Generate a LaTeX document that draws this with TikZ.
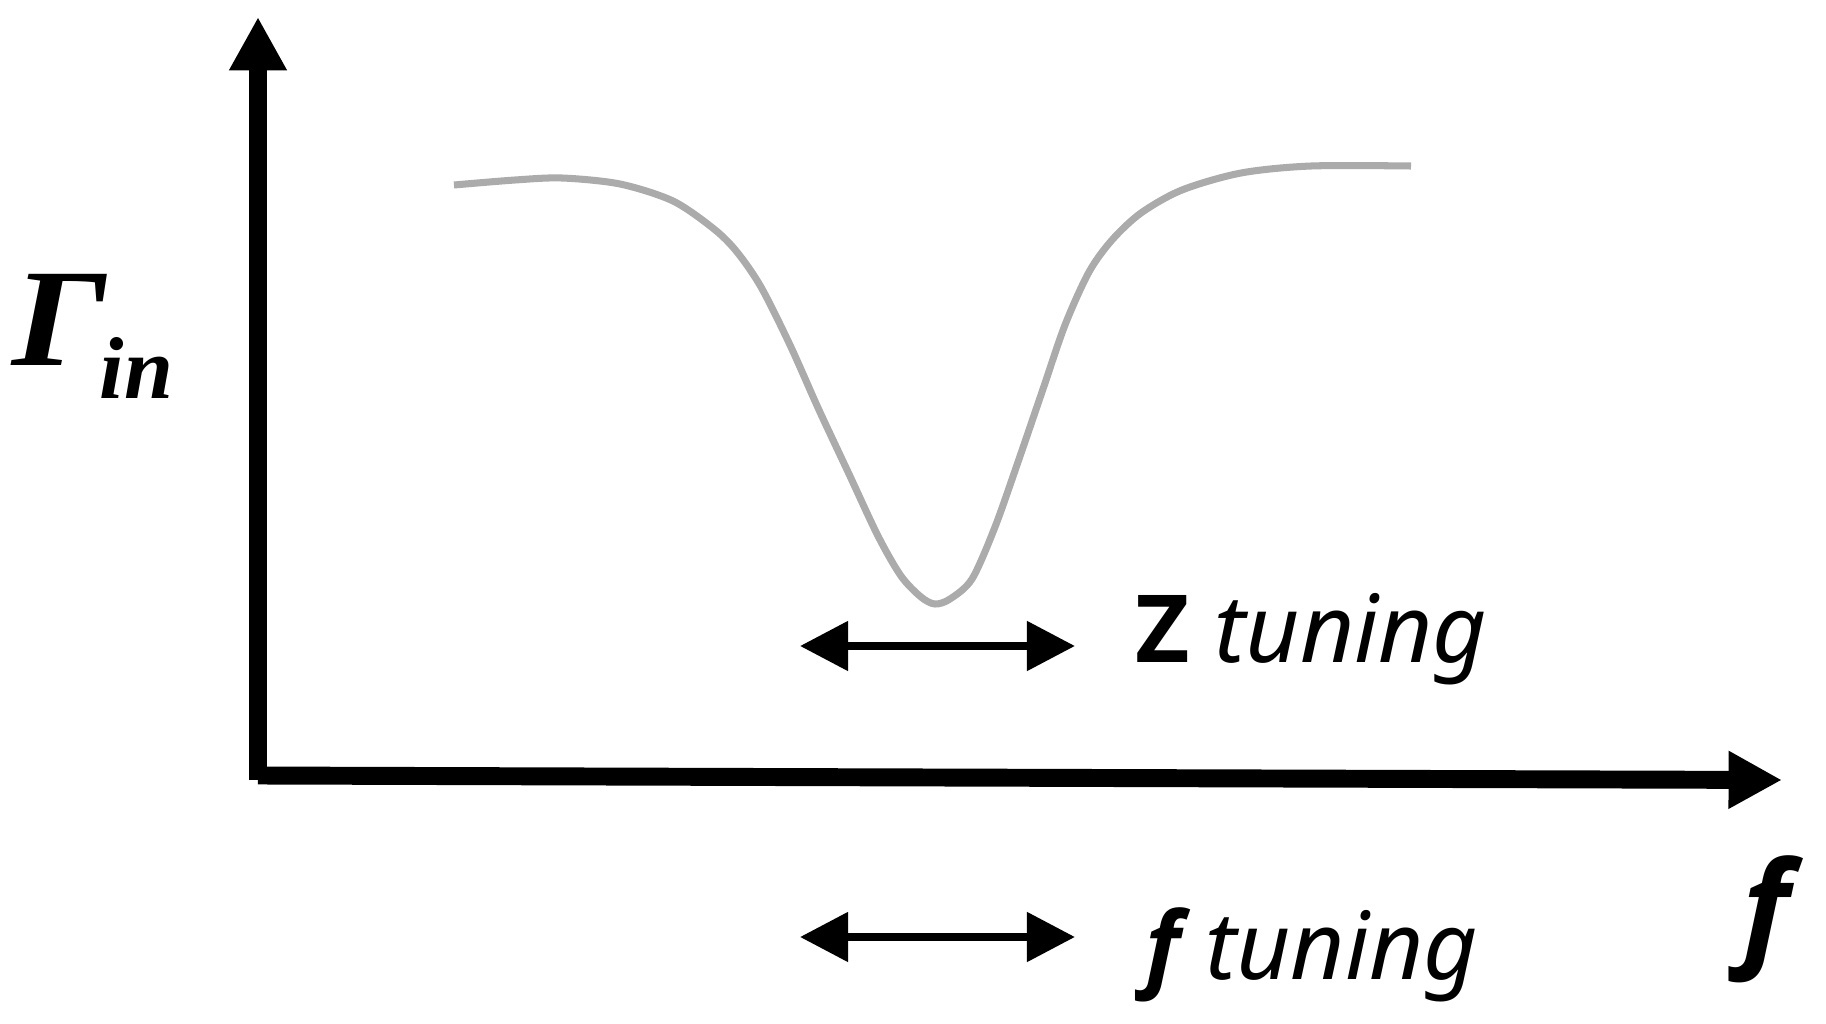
\documentclass[tikz,border=0pt]{standalone}
\usepackage{fontspec}
\setmainfont{Noto Sans}
\newfontfamily\heavysans{Open Sans}
\newfontfamily\gammafont{Liberation Serif}
\usetikzlibrary{arrows.meta,positioning}
\tikzset{
    axis/.style={
        draw=black,
        line width=5.1pt,
        -{Triangle[length=15.2pt,width=15.4pt]}
    },
    tuning/.style={
        draw=black,
        line width=2.3pt,
        {Triangle[length=13.7pt,width=13.7pt]}-{Triangle[length=13.7pt,width=13.7pt]}
    },
    response/.style={
        draw=black!33,
        line width=2pt
    },
    txt/.style={
        inner sep=0pt,
        anchor=base west
    }
}
\newcommand{\heavyZ}{{\heavysans\bfseries Z}}
\newcommand{\heavyf}{{\heavysans\bfseries\itshape f}}

\begin{document}
\begin{tikzpicture}[
            x=0.01cm, y=-0.01cm,
            big/.style={font=\fontsize{26.7}{27}\selectfont},
            huge f/.style={font=\fontsize{36}{36}\selectfont},
            gamma/.style={font=\gammafont\bfseries\itshape\fontsize{39.6}{40}\selectfont, xscale=1.12},
            gamma sub/.style={font=\gammafont\bfseries\itshape\fontsize{25}{25}\selectfont}]
    \useasboundingbox (0,0) rectangle (1826,1024);

    \coordinate (corner) at (258,780);
    \coordinate (ytip) at (258,17);
    \coordinate (xstart) at (258,775.5);
    \coordinate (xtip) at (1782,780);

    \draw[axis] (corner) -- (ytip);
    \draw[axis] (xstart) -- (xtip);

    % reflection dip
    \draw[response] plot[smooth, tension=0.5] coordinates {
        (454,185) (515,180) (562,178) (620,184) (673,201) (714,229)
        (737,252) (761,287) (790,345) (819,410) (849,474) (878,536)
        (901,576) (921,597) (935,604) (950,599) (972,579) (995,527)
        (1018,462) (1042,392) (1065,325) (1089,272) (1112,240) (1141,213)
        (1182,190) (1241,173) (1311,166) (1411,166)};

    \node[txt, gamma] (gam) at (12,365) {Γ};
    \node[txt, gamma sub] (gamin) at (99,398) {in};
    \node[txt, huge f] (flabel) at (1742,952) {\heavyf};

    \coordinate (zleft) at (800,646);
    \coordinate (zright) at (1075,646);
    \draw[tuning] (zleft) -- (zright);
    \node[txt, big] (ztext) at (1135,662) {\heavyZ\ \textit{tuning}};

    \coordinate (fleft) at (800,937);
    \coordinate (fright) at (1075,937);
    \draw[tuning] (fleft) -- (fright);
    \node[txt, big] (ftext) at (1145,979) {\heavyf\ \textit{tuning}};
\end{tikzpicture}
\end{document}
